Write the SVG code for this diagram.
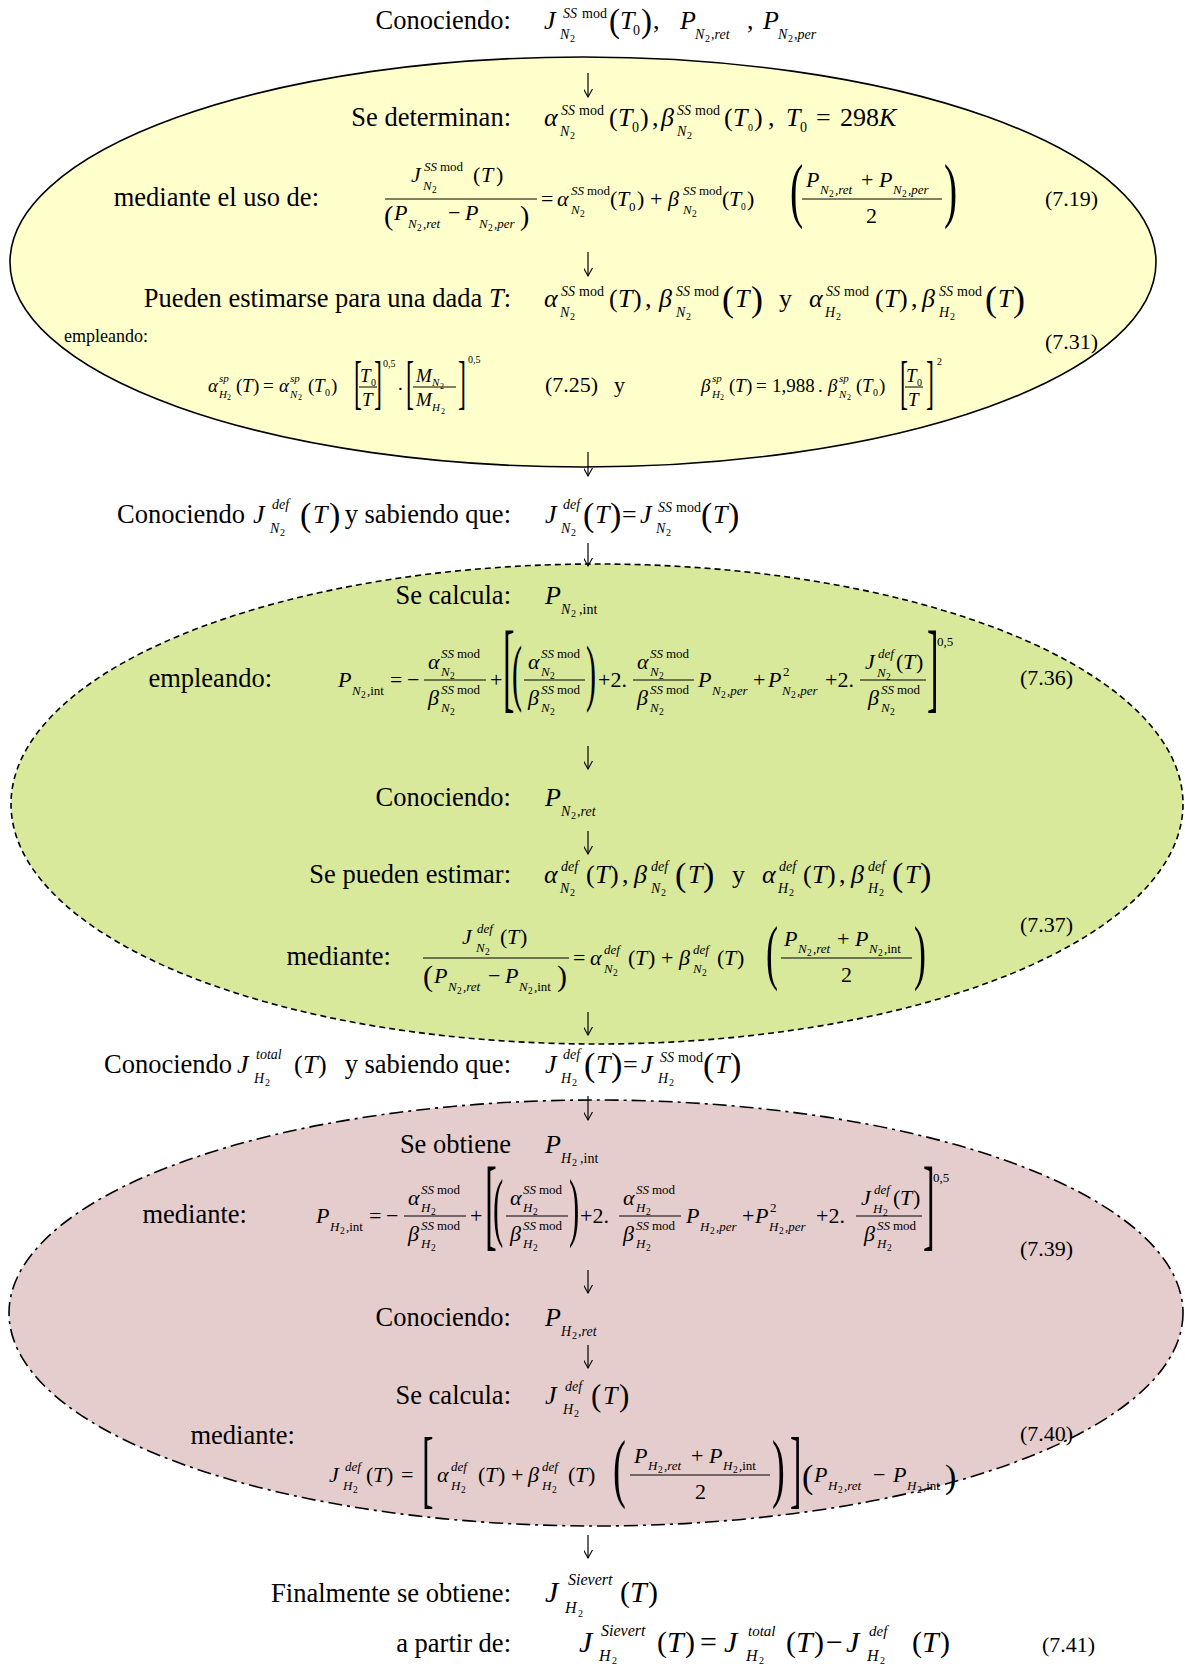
<svg xmlns="http://www.w3.org/2000/svg" width="1185" height="1666" viewBox="0 0 1185 1666">
<style>
text{font-family:"Liberation Serif","Times New Roman",serif;fill:#000}
.L{font-size:26.5px}
.I{font-size:26px;font-style:italic}
.U{font-size:26px}
.i{font-size:22px;font-style:italic}
.u{font-size:22px}
.j{font-size:19px;font-style:italic}
.v{font-size:19px}
.s{font-size:14px;font-style:italic}
.su{font-size:14px}
.t{font-size:13px;font-style:italic}
.tu{font-size:13px}
.r{font-size:11px;font-style:italic}
.ru{font-size:10px}
.n{font-size:10px}
.n9{font-size:9.5px}
.n8{font-size:8px}
.e{font-size:22px}
.bar{stroke:#000;stroke-width:1}
.ell{stroke:#000;stroke-width:1.6}
.conn line{stroke:#000;stroke-width:1.2}
</style>
<defs>
<marker id="ah" viewBox="0 0 10 10" refX="9" refY="5" markerWidth="9" markerHeight="9" markerUnits="userSpaceOnUse" orient="auto">
<path d="M0,0 L9,5 L0,10" fill="none" stroke="#000" stroke-width="1.2"/>
</marker>
</defs>

<!-- Row 1 -->
<g id="row-conociendo-1">
<text class="L" x="511" y="29" text-anchor="end">Conociendo:</text>
<text class="I" x="544" y="29">J</text><text class="s" x="563" y="18">SS</text><text class="su" x="582" y="18">mod</text>
<text class="s" x="560" y="39">N</text><text class="n" x="570" y="42">2</text>
<text style="font-size:33px" x="609" y="32">(</text><text class="I" x="620" y="29">T</text><text class="su" x="633" y="35">0</text><text style="font-size:33px" x="641" y="32">)</text>
<text class="U" x="653" y="29">,</text>
<text class="I" x="680" y="29">P</text><text class="s" x="695" y="39">N</text><text class="n" x="705" y="42">2</text><text class="s" x="711" y="39">,ret</text>
<text class="U" x="747" y="29">,</text>
<text class="I" x="763" y="29">P</text><text class="s" x="778" y="39">N</text><text class="n" x="788" y="42">2</text><text class="s" x="794" y="39">,per</text>
</g>

<!-- Yellow node -->
<g id="node-yellow">
<ellipse class="ell" cx="583" cy="262" rx="573" ry="205" fill="#FFFFCC"/>
<text class="L" x="511" y="126" text-anchor="end">Se determinan:</text>
<text class="I" x="544" y="126">α</text><text class="s" x="561" y="115">SS</text><text class="su" x="579" y="115">mod</text><text class="s" x="560" y="136">N</text><text class="n" x="570" y="139">2</text>
<text class="U" x="609" y="126">(</text><text class="I" x="618" y="126">T</text><text class="su" x="632" y="132">0</text><text class="U" x="640" y="126">)</text>
<text class="U" x="652" y="126">,</text>
<text class="I" x="661" y="126">β</text><text class="s" x="677" y="115">SS</text><text class="su" x="695" y="115">mod</text><text class="s" x="677" y="136">N</text><text class="n" x="687" y="139">2</text>
<text class="U" x="724" y="126">(</text><text class="I" x="733" y="126">T</text><text class="n" x="748" y="131">0</text><text class="U" x="754" y="126">)</text>
<text class="U" x="768" y="126">,</text>
<text class="I" x="786" y="126">T</text><text class="su" x="800" y="132">0</text>
<text class="U" x="816" y="126">=</text><text class="U" x="840" y="126">298</text><text class="I" x="879" y="126">K</text>

<text class="L" x="319" y="206" text-anchor="end">mediante el uso de:</text>
<text class="i" x="411" y="182">J</text><text class="t" x="424" y="171">SS</text><text class="tu" x="440" y="171">mod</text><text class="t" x="423" y="190">N</text><text class="n9" x="432" y="193">2</text>
<text class="u" x="473" y="182">(</text><text class="i" x="481" y="182">T</text><text class="u" x="496" y="182">)</text>
<line class="bar" x1="385" y1="199" x2="537" y2="199"/>
<text style="font-size:28px" x="384" y="225">(</text><text class="i" x="394" y="220">P</text><text class="t" x="408" y="228">N</text><text class="n9" x="417" y="231">2</text><text class="t" x="423" y="228">,ret</text>
<text class="u" x="448" y="220">−</text>
<text class="i" x="465" y="220">P</text><text class="t" x="479" y="228">N</text><text class="n9" x="488" y="231">2</text><text class="t" x="494" y="228">,per</text><text style="font-size:28px" x="520" y="225">)</text>
<text class="u" x="541" y="206">=</text>
<text class="i" x="557" y="206">α</text><text class="t" x="571" y="195">SS</text><text class="tu" x="587" y="195">mod</text><text class="t" x="571" y="214">N</text><text class="n9" x="580" y="217">2</text>
<text class="u" x="610" y="206">(</text><text class="i" x="617" y="206">T</text><text class="tu" x="629" y="211">0</text><text class="u" x="637" y="206">)</text>
<text class="u" x="650" y="206">+</text>
<text class="i" x="668" y="206">β</text><text class="t" x="683" y="195">SS</text><text class="tu" x="699" y="195">mod</text><text class="t" x="683" y="214">N</text><text class="n9" x="692" y="217">2</text>
<text class="u" x="722" y="206">(</text><text class="i" x="729" y="206">T</text><text class="n9" x="741" y="210">0</text><text class="u" x="747" y="206">)</text>
<text transform="translate(790,214) scale(0.55,1)" style="font-size:72px">(</text>
<text class="i" x="806" y="187">P</text><text class="t" x="820" y="194">N</text><text class="n9" x="829" y="197">2</text><text class="t" x="835" y="194">,ret</text>
<text class="u" x="861" y="187">+</text>
<text class="i" x="879" y="187">P</text><text class="t" x="893" y="194">N</text><text class="n9" x="902" y="197">2</text><text class="t" x="908" y="194">,per</text>
<line class="bar" x1="802" y1="199" x2="942" y2="199"/>
<text class="u" x="866" y="223">2</text>
<text transform="translate(944,214) scale(0.55,1)" style="font-size:72px">)</text>
<text class="e" x="1045" y="206">(7.19)</text>

<text class="L" x="511" y="307" text-anchor="end">Pueden estimarse para una dada <tspan font-style="italic">T</tspan>:</text>
<text class="I" x="544" y="307">α</text><text class="s" x="561" y="296">SS</text><text class="su" x="579" y="296">mod</text><text class="s" x="560" y="317">N</text><text class="n" x="570" y="320">2</text>
<text class="U" x="609" y="307">(</text><text class="I" x="618" y="307">T</text><text class="U" x="633" y="307">)</text>
<text class="U" x="645" y="307">,</text>
<text class="I" x="659" y="307">β</text><text class="s" x="676" y="296">SS</text><text class="su" x="694" y="296">mod</text><text class="s" x="676" y="317">N</text><text class="n" x="686" y="320">2</text>
<text style="font-size:36px" x="722" y="311">(</text><text class="I" x="735" y="307">T</text><text style="font-size:36px" x="751" y="311">)</text>
<text class="U" x="779" y="307">y</text>
<text class="I" x="809" y="307">α</text><text class="s" x="826" y="296">SS</text><text class="su" x="844" y="296">mod</text><text class="s" x="825" y="317">H</text><text class="n" x="836" y="320">2</text>
<text class="U" x="875" y="307">(</text><text class="I" x="884" y="307">T</text><text class="U" x="899" y="307">)</text>
<text class="U" x="911" y="307">,</text>
<text class="I" x="922" y="307">β</text><text class="s" x="939" y="296">SS</text><text class="su" x="957" y="296">mod</text><text class="s" x="939" y="317">H</text><text class="n" x="950" y="320">2</text>
<text style="font-size:36px" x="985" y="311">(</text><text class="I" x="998" y="307">T</text><text style="font-size:36px" x="1013" y="311">)</text>

<text style="font-size:18px" x="64" y="342">empleando:</text>
<text class="e" x="1045" y="349">(7.31)</text>

<text class="j" x="208" y="392">α</text><text class="r" x="219" y="382">sp</text><text class="r" x="219" y="398">H</text><text class="n8" x="227" y="400">2</text>
<text class="v" x="236" y="392">(</text><text class="j" x="242" y="392">T</text><text class="v" x="253" y="392">)</text>
<text class="v" x="263" y="392">=</text>
<text class="j" x="279" y="392">α</text><text class="r" x="290" y="382">sp</text><text class="r" x="290" y="398">N</text><text class="n8" x="298" y="400">2</text>
<text class="v" x="308" y="392">(</text><text class="j" x="314" y="392">T</text><text class="ru" x="325" y="396">0</text><text class="v" x="331" y="392">)</text>
<text transform="translate(354,402) scale(0.4,1)" style="font-size:60px">[</text>
<text class="j" x="360" y="382">T</text><text class="ru" x="371" y="386">0</text>
<line class="bar" x1="359" y1="387" x2="377" y2="387"/>
<text class="j" x="362" y="406">T</text>
<text transform="translate(374,402) scale(0.4,1)" style="font-size:60px">]</text>
<text class="ru" x="383" y="367">0,5</text>
<text class="v" x="398" y="390">.</text>
<text transform="translate(406,402) scale(0.4,1)" style="font-size:60px">[</text>
<text class="j" x="416" y="382">M</text><text class="r" x="432" y="386">N</text><text class="n8" x="440" y="389">2</text>
<line class="bar" x1="413" y1="387" x2="456" y2="387"/>
<text class="j" x="416" y="406">M</text><text class="r" x="432" y="411">H</text><text class="n8" x="441" y="414">2</text>
<text transform="translate(458,402) scale(0.4,1)" style="font-size:60px">]</text>
<text class="ru" x="468" y="363">0,5</text>
<text class="e" x="545" y="392">(7.25)</text>
<text class="e" x="614" y="392">y</text>
<text class="j" x="701" y="392">β</text><text class="r" x="712" y="382">sp</text><text class="r" x="712" y="398">H</text><text class="n8" x="720" y="400">2</text>
<text class="v" x="729" y="392">(</text><text class="j" x="735" y="392">T</text><text class="v" x="746" y="392">)</text>
<text class="v" x="756" y="392">=</text>
<text class="v" x="772" y="392">1,988</text><text class="v" x="818" y="392">.</text>
<text class="j" x="828" y="392">β</text><text class="r" x="839" y="382">sp</text><text class="r" x="839" y="398">N</text><text class="n8" x="847" y="400">2</text>
<text class="v" x="856" y="392">(</text><text class="j" x="862" y="392">T</text><text class="ru" x="873" y="396">0</text><text class="v" x="879" y="392">)</text>
<text transform="translate(900,402) scale(0.4,1)" style="font-size:60px">[</text>
<text class="j" x="906" y="382">T</text><text class="ru" x="917" y="386">0</text>
<line class="bar" x1="905" y1="387" x2="923" y2="387"/>
<text class="j" x="908" y="406">T</text>
<text transform="translate(926,402) scale(0.4,1)" style="font-size:60px">]</text>
<text class="ru" x="937" y="365">2</text>
</g>

<!-- Row between yellow and green -->
<g id="row-conociendo-jdef-n2">
<text class="L" x="117" y="523">Conociendo</text>
<text class="I" x="253" y="523">J</text><text class="s" x="272" y="509">def</text><text class="s" x="270" y="533">N</text><text class="n" x="280" y="536">2</text>
<text style="font-size:34px" x="300" y="526">(</text><text class="I" x="313" y="523">T</text><text style="font-size:34px" x="329" y="526">)</text>
<text class="L" x="511" y="523" text-anchor="end">y sabiendo que:</text>
<text class="I" x="545" y="523">J</text><text class="s" x="563" y="509">def</text><text class="s" x="561" y="533">N</text><text class="n" x="571" y="536">2</text>
<text style="font-size:34px" x="583" y="526">(</text><text class="I" x="595" y="523">T</text><text style="font-size:34px" x="610" y="526">)</text>
<text class="U" x="622" y="523">=</text>
<text class="I" x="640" y="523">J</text><text class="s" x="658" y="512">SS</text><text class="su" x="676" y="512">mod</text><text class="s" x="656" y="533">N</text><text class="n" x="666" y="536">2</text>
<text style="font-size:34px" x="701" y="526">(</text><text class="I" x="713" y="523">T</text><text style="font-size:34px" x="728" y="526">)</text>
</g>

<!-- Green node -->
<g id="node-green">
<ellipse class="ell" cx="597" cy="804" rx="586" ry="240" fill="#D9E99B" stroke-dasharray="6 4"/>
<text class="L" x="511" y="604" text-anchor="end">Se calcula:</text>
<text class="I" x="545" y="604">P</text><text class="s" x="561" y="614">N</text><text class="n" x="571" y="617">2</text><text class="su" x="579" y="614">,int</text>

<text class="L" x="272" y="687" text-anchor="end">empleando:</text>
<text class="i" x="338" y="687">P</text><text class="t" x="352" y="695">N</text><text class="n9" x="361" y="698">2</text><text class="tu" x="367" y="695">,int</text>
<text class="u" x="390" y="687">=</text><text class="u" x="407" y="687">−</text>
<text class="i" x="428" y="669">α</text><text class="t" x="441" y="658">SS</text><text class="tu" x="457" y="658">mod</text><text class="t" x="441" y="676">N</text><text class="n9" x="450" y="679">2</text>
<line class="bar" x1="424" y1="680" x2="486" y2="680"/>
<text class="i" x="428" y="705">β</text><text class="t" x="441" y="694">SS</text><text class="tu" x="457" y="694">mod</text><text class="t" x="441" y="712">N</text><text class="n9" x="450" y="715">2</text>
<text class="u" x="490" y="687">+</text>
<text transform="translate(503,700) scale(0.35,1)" style="font-size:99px">[</text>
<text transform="translate(512,697) scale(0.4,1)" style="font-size:75px">(</text>
<text class="i" x="528" y="669">α</text><text class="t" x="541" y="658">SS</text><text class="tu" x="557" y="658">mod</text><text class="t" x="541" y="676">N</text><text class="n9" x="550" y="679">2</text>
<line class="bar" x1="524" y1="680" x2="585" y2="680"/>
<text class="i" x="528" y="705">β</text><text class="t" x="541" y="694">SS</text><text class="tu" x="557" y="694">mod</text><text class="t" x="541" y="712">N</text><text class="n9" x="550" y="715">2</text>
<text transform="translate(586,697) scale(0.4,1)" style="font-size:75px">)</text>
<text class="u" x="598" y="687">+2.</text>
<text class="i" x="637" y="669">α</text><text class="t" x="650" y="658">SS</text><text class="tu" x="666" y="658">mod</text><text class="t" x="650" y="676">N</text><text class="n9" x="659" y="679">2</text>
<line class="bar" x1="633" y1="680" x2="694" y2="680"/>
<text class="i" x="637" y="705">β</text><text class="t" x="650" y="694">SS</text><text class="tu" x="666" y="694">mod</text><text class="t" x="650" y="712">N</text><text class="n9" x="659" y="715">2</text>
<text class="i" x="698" y="687">P</text><text class="t" x="712" y="695">N</text><text class="n9" x="721" y="698">2</text><text class="t" x="727" y="695">,per</text>
<text class="u" x="753" y="687">+</text>
<text class="i" x="768" y="687">P</text><text class="tu" x="783" y="676">2</text><text class="t" x="782" y="695">N</text><text class="n9" x="791" y="698">2</text><text class="t" x="797" y="695">,per</text>
<text class="u" x="825" y="687">+2.</text>
<text class="i" x="865" y="669">J</text><text class="t" x="878" y="658">def</text><text class="t" x="877" y="677">N</text><text class="n9" x="886" y="680">2</text>
<text class="u" x="896" y="669">(</text><text class="i" x="903" y="669">T</text><text class="u" x="916" y="669">)</text>
<line class="bar" x1="860" y1="680" x2="926" y2="680"/>
<text class="i" x="868" y="705">β</text><text class="t" x="881" y="694">SS</text><text class="tu" x="897" y="694">mod</text><text class="t" x="881" y="712">N</text><text class="n9" x="890" y="715">2</text>
<text transform="translate(927,700) scale(0.35,1)" style="font-size:99px">]</text>
<text class="tu" x="937" y="646">0,5</text>
<text class="e" x="1020" y="685">(7.36)</text>

<text class="L" x="511" y="806" text-anchor="end">Conociendo:</text>
<text class="I" x="545" y="806">P</text><text class="s" x="561" y="816">N</text><text class="n" x="571" y="819">2</text><text class="s" x="577" y="816">,ret</text>

<text class="L" x="511" y="883" text-anchor="end">Se pueden estimar:</text>
<text class="I" x="544" y="883">α</text><text class="s" x="561" y="871">def</text><text class="s" x="560" y="893">N</text><text class="n" x="570" y="896">2</text>
<text class="U" x="586" y="883">(</text><text class="I" x="595" y="883">T</text><text class="U" x="610" y="883">)</text>
<text class="U" x="622" y="883">,</text>
<text class="I" x="634" y="883">β</text><text class="s" x="651" y="871">def</text><text class="s" x="651" y="893">N</text><text class="n" x="661" y="896">2</text>
<text style="font-size:34px" x="675" y="886">(</text><text class="I" x="688" y="883">T</text><text style="font-size:34px" x="703" y="886">)</text>
<text class="U" x="732" y="883">y</text>
<text class="I" x="762" y="883">α</text><text class="s" x="779" y="871">def</text><text class="s" x="778" y="893">H</text><text class="n" x="789" y="896">2</text>
<text class="U" x="803" y="883">(</text><text class="I" x="812" y="883">T</text><text class="U" x="827" y="883">)</text>
<text class="U" x="839" y="883">,</text>
<text class="I" x="851" y="883">β</text><text class="s" x="868" y="871">def</text><text class="s" x="868" y="893">H</text><text class="n" x="879" y="896">2</text>
<text style="font-size:34px" x="892" y="886">(</text><text class="I" x="905" y="883">T</text><text style="font-size:34px" x="920" y="886">)</text>

<text class="L" x="391" y="965" text-anchor="end">mediante:</text>
<text class="i" x="462" y="944">J</text><text class="t" x="477" y="933">def</text><text class="t" x="476" y="952">N</text><text class="n9" x="485" y="955">2</text>
<text class="u" x="500" y="944">(</text><text class="i" x="507" y="944">T</text><text class="u" x="520" y="944">)</text>
<line class="bar" x1="423" y1="958" x2="569" y2="958"/>
<text style="font-size:30px" x="423" y="986">(</text><text class="i" x="434" y="983">P</text><text class="t" x="448" y="991">N</text><text class="n9" x="457" y="994">2</text><text class="t" x="463" y="991">,ret</text>
<text class="u" x="488" y="983">−</text>
<text class="i" x="505" y="983">P</text><text class="t" x="519" y="991">N</text><text class="n9" x="528" y="994">2</text><text class="tu" x="534" y="991">,int</text>
<text style="font-size:30px" x="557" y="986">)</text>
<text class="u" x="573" y="965">=</text>
<text class="i" x="590" y="965">α</text><text class="t" x="604" y="954">def</text><text class="t" x="604" y="973">N</text><text class="n9" x="613" y="976">2</text>
<text class="u" x="628" y="965">(</text><text class="i" x="635" y="965">T</text><text class="u" x="648" y="965">)</text>
<text class="u" x="661" y="965">+</text>
<text class="i" x="679" y="965">β</text><text class="t" x="693" y="954">def</text><text class="t" x="693" y="973">N</text><text class="n9" x="702" y="976">2</text>
<text class="u" x="717" y="965">(</text><text class="i" x="724" y="965">T</text><text class="u" x="737" y="965">)</text>
<text transform="translate(766,976) scale(0.5,1)" style="font-size:72px">(</text>
<text class="i" x="784" y="946">P</text><text class="t" x="798" y="953">N</text><text class="n9" x="807" y="956">2</text><text class="t" x="813" y="953">,ret</text>
<text class="u" x="837" y="946">+</text>
<text class="i" x="855" y="946">P</text><text class="t" x="869" y="953">N</text><text class="n9" x="878" y="956">2</text><text class="tu" x="884" y="953">,int</text>
<line class="bar" x1="781" y1="958" x2="912" y2="958"/>
<text class="u" x="841" y="982">2</text>
<text transform="translate(914,976) scale(0.5,1)" style="font-size:72px">)</text>
<text class="e" x="1020" y="932">(7.37)</text>
</g>

<!-- Row between green and pink -->
<g id="row-conociendo-jtotal-h2">
<text class="L" x="104" y="1073">Conociendo</text>
<text class="I" x="237" y="1073">J</text><text class="s" x="256" y="1059">total</text><text class="s" x="254" y="1083">H</text><text class="n" x="265" y="1086">2</text>
<text class="U" x="294" y="1073">(</text><text class="I" x="303" y="1073">T</text><text class="U" x="318" y="1073">)</text>
<text class="L" x="511" y="1073" text-anchor="end">y sabiendo que:</text>
<text class="I" x="545" y="1073">J</text><text class="s" x="563" y="1059">def</text><text class="s" x="561" y="1083">H</text><text class="n" x="572" y="1086">2</text>
<text style="font-size:34px" x="584" y="1076">(</text><text class="I" x="596" y="1073">T</text><text style="font-size:34px" x="611" y="1076">)</text>
<text class="U" x="623" y="1073">=</text>
<text class="I" x="641" y="1073">J</text><text class="s" x="660" y="1062">SS</text><text class="su" x="678" y="1062">mod</text><text class="s" x="658" y="1083">H</text><text class="n" x="669" y="1086">2</text>
<text style="font-size:34px" x="703" y="1076">(</text><text class="I" x="715" y="1073">T</text><text style="font-size:34px" x="730" y="1076">)</text>
</g>

<!-- Pink node -->
<g id="node-pink">
<ellipse class="ell" cx="596" cy="1313" rx="587" ry="213" fill="#E6CDCD" stroke-dasharray="14 5 3 5"/>
<text class="L" x="511" y="1153" text-anchor="end">Se obtiene</text>
<text class="I" x="545" y="1153">P</text><text class="s" x="561" y="1163">H</text><text class="n" x="572" y="1166">2</text><text class="su" x="580" y="1163">,int</text>

<text class="L" x="247" y="1223" text-anchor="end">mediante:</text>
<text class="i" x="316" y="1223">P</text><text class="t" x="330" y="1231">H</text><text class="n9" x="340" y="1234">2</text><text class="tu" x="346" y="1231">,int</text>
<text class="u" x="369" y="1223">=</text><text class="u" x="386" y="1223">−</text>
<text class="i" x="408" y="1205">α</text><text class="t" x="421" y="1194">SS</text><text class="tu" x="437" y="1194">mod</text><text class="t" x="421" y="1212">H</text><text class="n9" x="431" y="1215">2</text>
<line class="bar" x1="404" y1="1216" x2="466" y2="1216"/>
<text class="i" x="408" y="1241">β</text><text class="t" x="421" y="1230">SS</text><text class="tu" x="437" y="1230">mod</text><text class="t" x="421" y="1248">H</text><text class="n9" x="431" y="1251">2</text>
<text class="u" x="470" y="1223">+</text>
<text transform="translate(485,1237) scale(0.35,1)" style="font-size:101px">[</text>
<text transform="translate(493,1232) scale(0.4,1)" style="font-size:77px">(</text>
<text class="i" x="510" y="1205">α</text><text class="t" x="523" y="1194">SS</text><text class="tu" x="539" y="1194">mod</text><text class="t" x="523" y="1212">H</text><text class="n9" x="533" y="1215">2</text>
<line class="bar" x1="506" y1="1216" x2="568" y2="1216"/>
<text class="i" x="510" y="1241">β</text><text class="t" x="523" y="1230">SS</text><text class="tu" x="539" y="1230">mod</text><text class="t" x="523" y="1248">H</text><text class="n9" x="533" y="1251">2</text>
<text transform="translate(569,1232) scale(0.4,1)" style="font-size:77px">)</text>
<text class="u" x="580" y="1223">+2.</text>
<text class="i" x="623" y="1205">α</text><text class="t" x="636" y="1194">SS</text><text class="tu" x="652" y="1194">mod</text><text class="t" x="636" y="1212">H</text><text class="n9" x="646" y="1215">2</text>
<line class="bar" x1="619" y1="1216" x2="681" y2="1216"/>
<text class="i" x="623" y="1241">β</text><text class="t" x="636" y="1230">SS</text><text class="tu" x="652" y="1230">mod</text><text class="t" x="636" y="1248">H</text><text class="n9" x="646" y="1251">2</text>
<text class="i" x="686" y="1223">P</text><text class="t" x="700" y="1231">H</text><text class="n9" x="710" y="1234">2</text><text class="t" x="716" y="1231">,per</text>
<text class="u" x="742" y="1223">+</text>
<text class="i" x="755" y="1223">P</text><text class="tu" x="770" y="1212">2</text><text class="t" x="769" y="1231">H</text><text class="n9" x="779" y="1234">2</text><text class="t" x="785" y="1231">,per</text>
<text class="u" x="816" y="1223">+2.</text>
<text class="i" x="861" y="1205">J</text><text class="t" x="874" y="1194">def</text><text class="t" x="873" y="1213">H</text><text class="n9" x="883" y="1216">2</text>
<text class="u" x="893" y="1205">(</text><text class="i" x="900" y="1205">T</text><text class="u" x="913" y="1205">)</text>
<line class="bar" x1="856" y1="1216" x2="922" y2="1216"/>
<text class="i" x="864" y="1241">β</text><text class="t" x="877" y="1230">SS</text><text class="tu" x="893" y="1230">mod</text><text class="t" x="877" y="1248">H</text><text class="n9" x="887" y="1251">2</text>
<text transform="translate(923,1237) scale(0.35,1)" style="font-size:101px">]</text>
<text class="tu" x="933" y="1182">0,5</text>
<text class="e" x="1020" y="1256">(7.39)</text>

<text class="L" x="511" y="1326" text-anchor="end">Conociendo:</text>
<text class="I" x="545" y="1326">P</text><text class="s" x="561" y="1336">H</text><text class="n" x="572" y="1339">2</text><text class="s" x="578" y="1336">,ret</text>

<text class="L" x="511" y="1404" text-anchor="end">Se calcula:</text>
<text class="I" x="545" y="1404">J</text><text class="s" x="565" y="1391">def</text><text class="s" x="563" y="1414">H</text><text class="n" x="574" y="1417">2</text>
<text style="font-size:31px" x="591" y="1406">(</text><text class="I" x="603" y="1404">T</text><text style="font-size:31px" x="619" y="1406">)</text>

<text class="L" x="295" y="1444" text-anchor="end">mediante:</text>
<text class="e" x="1020" y="1441">(7.40)</text>
<text class="i" x="329" y="1482">J</text><text class="t" x="345" y="1471">def</text><text class="t" x="343" y="1490">H</text><text class="n9" x="353" y="1493">2</text>
<text class="u" x="366" y="1482">(</text><text class="i" x="373" y="1482">T</text><text class="u" x="386" y="1482">)</text>
<text class="u" x="401" y="1482">=</text>
<text transform="translate(422,1497) scale(0.4,1)" style="font-size:86px">[</text>
<text class="i" x="437" y="1482">α</text><text class="t" x="451" y="1471">def</text><text class="t" x="451" y="1490">H</text><text class="n9" x="461" y="1493">2</text>
<text class="u" x="478" y="1482">(</text><text class="i" x="485" y="1482">T</text><text class="u" x="498" y="1482">)</text>
<text class="u" x="511" y="1482">+</text>
<text class="i" x="528" y="1482">β</text><text class="t" x="542" y="1471">def</text><text class="t" x="542" y="1490">H</text><text class="n9" x="552" y="1493">2</text>
<text class="u" x="568" y="1482">(</text><text class="i" x="575" y="1482">T</text><text class="u" x="588" y="1482">)</text>
<text transform="translate(613,1493) scale(0.5,1)" style="font-size:77px">(</text>
<text class="i" x="634" y="1463">P</text><text class="t" x="648" y="1470">H</text><text class="n9" x="658" y="1473">2</text><text class="t" x="664" y="1470">,ret</text>
<text class="u" x="691" y="1463">+</text>
<text class="i" x="709" y="1463">P</text><text class="t" x="723" y="1470">H</text><text class="n9" x="733" y="1473">2</text><text class="tu" x="739" y="1470">,int</text>
<line class="bar" x1="630" y1="1475" x2="770" y2="1475"/>
<text class="u" x="695" y="1499">2</text>
<text transform="translate(772,1493) scale(0.5,1)" style="font-size:77px">)</text>
<text transform="translate(790,1497) scale(0.4,1)" style="font-size:86px">]</text>
<text style="font-size:34px" x="802" y="1488">(</text>
<text class="i" x="814" y="1482">P</text><text class="t" x="828" y="1490">H</text><text class="n9" x="838" y="1493">2</text><text class="t" x="844" y="1490">,ret</text>
<text class="u" x="873" y="1482">−</text>
<text class="i" x="893" y="1482">P</text><text class="t" x="907" y="1490">H</text><text class="n9" x="917" y="1493">2</text><text class="tu" x="923" y="1490">,int</text>
<text style="font-size:34px" x="945" y="1488">)</text>
</g>

<!-- Final rows -->
<g id="row-final">
<text class="L" x="511" y="1602" text-anchor="end">Finalmente se obtiene:</text>
<text style="font-size:30px;font-style:italic" x="545" y="1602">J</text><text style="font-size:16px;font-style:italic" x="568" y="1585">Sievert</text><text style="font-size:16px;font-style:italic" x="565" y="1613">H</text><text class="n" x="578" y="1617">2</text>
<text style="font-size:30px" x="620" y="1602">(</text><text style="font-size:30px;font-style:italic" x="630" y="1602">T</text><text style="font-size:30px" x="648" y="1602">)</text>

<text class="L" x="511" y="1652" text-anchor="end">a partir de:</text>
<text style="font-size:30px;font-style:italic" x="579" y="1652">J</text><text style="font-size:16px;font-style:italic" x="601" y="1636">Sievert</text><text style="font-size:16px;font-style:italic" x="599" y="1661">H</text><text class="n" x="612" y="1664">2</text>
<text style="font-size:30px" x="657" y="1652">(</text><text style="font-size:30px;font-style:italic" x="667" y="1652">T</text><text style="font-size:30px" x="685" y="1652">)</text>
<text style="font-size:30px" x="700" y="1652">=</text>
<text style="font-size:30px;font-style:italic" x="724" y="1652">J</text><text style="font-size:15px;font-style:italic" x="748" y="1636">total</text><text style="font-size:16px;font-style:italic" x="746" y="1661">H</text><text class="n" x="759" y="1664">2</text>
<text style="font-size:30px" x="786" y="1652">(</text><text style="font-size:30px;font-style:italic" x="796" y="1652">T</text><text style="font-size:30px" x="814" y="1652">)</text>
<text style="font-size:30px" x="826" y="1652">−</text>
<text style="font-size:30px;font-style:italic" x="846" y="1652">J</text><text style="font-size:15px;font-style:italic" x="869" y="1636">def</text><text style="font-size:16px;font-style:italic" x="867" y="1661">H</text><text class="n" x="880" y="1664">2</text>
<text style="font-size:30px" x="912" y="1652">(</text><text style="font-size:30px;font-style:italic" x="922" y="1652">T</text><text style="font-size:30px" x="940" y="1652">)</text>
<text class="e" x="1042" y="1652">(7.41)</text>
</g>

<!-- Connectors -->
<g id="connectors" class="conn">
<line x1="588" y1="73" x2="588" y2="97" marker-end="url(#ah)"/>
<line x1="588" y1="252" x2="588" y2="276" marker-end="url(#ah)"/>
<line x1="588" y1="452" x2="588" y2="476" marker-end="url(#ah)"/>
<line x1="588" y1="543" x2="588" y2="566" marker-end="url(#ah)"/>
<line x1="588" y1="746" x2="588" y2="769" marker-end="url(#ah)"/>
<line x1="588" y1="831" x2="588" y2="854" marker-end="url(#ah)"/>
<line x1="588" y1="1012" x2="588" y2="1035" marker-end="url(#ah)"/>
<line x1="588" y1="1096" x2="588" y2="1120" marker-end="url(#ah)"/>
<line x1="588" y1="1270" x2="588" y2="1293" marker-end="url(#ah)"/>
<line x1="588" y1="1345" x2="588" y2="1368" marker-end="url(#ah)"/>
<line x1="588" y1="1535" x2="588" y2="1558" marker-end="url(#ah)"/>
</g>
</svg>
